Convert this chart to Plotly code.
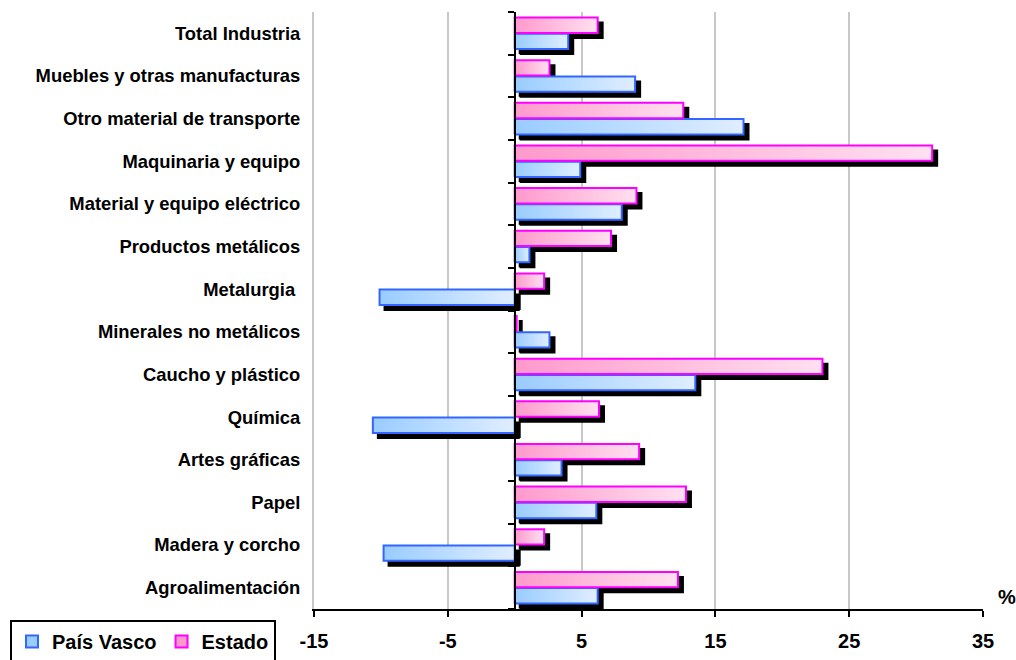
import plotly.graph_objects as go

# ---------------- data (bottom to top) ----------------
categories = [
    "Agroalimentación", "Madera y corcho", "Papel", "Artes gráficas",
    "Química", "Caucho y plástico", "Minerales no metálicos", "Metalurgia\u00a0",
    "Productos metálicos", "Material y equipo eléctrico", "Maquinaria y equipo",
    "Otro material de transporte", "Muebles y otras manufacturas", "Total Industria",
]
pais_vasco = [6.2, -9.8, 6.1, 3.5, -10.6, 13.5, 2.6, -10.1, 1.1, 8.0, 4.9, 17.1, 9.0, 4.0]
estado = [12.2, 2.2, 12.8, 9.3, 6.3, 23.0, 0.15, 2.2, 7.2, 9.1, 31.2, 12.6, 2.6, 6.2]
x_ticks = [-15, -5, 5, 15, 25, 35]
series_names = ["País Vasco", "Estado"]

# ---------------- layout geometry ----------------
W, H = 1016, 660
ML, MR, MT, MB = 314, 33, 12, 51
XMIN, XMAX = -15, 35
plot_w = W - ML - MR
plot_h = H - MT - MB
px_per_x = plot_w / (XMAX - XMIN)
px_per_cat = plot_h / len(categories)
SHADOW_DX = 5 / px_per_x
SHADOW_DY = 5 / px_per_cat

FONT = "Arial, 'Liberation Sans', sans-serif"
styles = {
    "País Vasco": dict(line="#3366FF", c0="#99CCFF", c1="#E0EEFF", lo=-0.37, hi=-0.01),
    "Estado": dict(line="#FF00FF", c0="#FF99CC", c1="#FFE0F0", lo=0.01, hi=0.37),
}

fig = go.Figure()


def rect(v, i, lo, hi, dx=0.0, dy=0.0):
    x0, x1 = 0 + dx, v + dx
    y0, y1 = i + lo + dy, i + hi + dy
    return [x0, x1, x1, x0, x0], [y0, y0, y1, y1, y0]


# shadows first
for name, vals in zip(series_names, [pais_vasco, estado]):
    s = styles[name]
    for i, v in enumerate(vals):
        xs, ys = rect(v, i, s["lo"], s["hi"], SHADOW_DX, -SHADOW_DY)
        fig.add_trace(go.Scatter(
            x=xs, y=ys, mode="lines", fill="toself", fillcolor="black",
            line=dict(color="black", width=2), showlegend=False, hoverinfo="skip"))

# bars with gradient
for name, vals in zip(series_names, [pais_vasco, estado]):
    s = styles[name]
    for i, v in enumerate(vals):
        xs, ys = rect(v, i, s["lo"], s["hi"])
        fig.add_trace(go.Scatter(
            x=xs, y=ys, mode="lines", fill="toself",
            fillgradient=dict(type="horizontal",
                              colorscale=[[0, s["c0"]], [1, s["c1"]]]),
            line=dict(color=s["line"], width=2), name=name,
            showlegend=False, hoverinfo="skip"))

# legend entries
for name in series_names:
    s = styles[name]
    fig.add_trace(go.Bar(
        x=[None], y=[None], orientation="h", name=name,
        marker=dict(color=s["c0"], line=dict(color=s["line"], width=2))))

# dummy trace for the zero (category) axis
fig.add_trace(go.Scatter(x=[None], y=[None], yaxis="y2", showlegend=False,
                         hoverinfo="skip"))

yr = [-0.5, len(categories) - 0.5]
fig.update_layout(
    width=W, height=H,
    margin=dict(l=ML, r=MR, t=MT, b=MB, autoexpand=False),
    paper_bgcolor="white", plot_bgcolor="white",
    font=dict(family=FONT, color="black"),
    showlegend=True,
    xaxis=dict(
        range=[XMIN, XMAX], tickvals=x_ticks, ticktext=[str(t) for t in x_ticks],
        showgrid=True, gridcolor="#C8C8C8", gridwidth=2, zeroline=False,
        showline=True, linecolor="black", linewidth=2,
        ticks="outside", ticklen=6, tickwidth=2, tickcolor="black",
        tickfont=dict(family=FONT, size=20, weight="bold", color="black"),
        ticklabelstandoff=7, fixedrange=True,
    ),
    yaxis=dict(
        range=yr, tickvals=list(range(len(categories))), ticktext=categories,
        showgrid=False, zeroline=False, showline=True, linecolor="#C8C8C8",
        linewidth=2, ticks="",
        tickfont=dict(family=FONT, size=18.4, weight="bold", color="black"),
        ticklabelstandoff=8, fixedrange=True,
    ),
    yaxis2=dict(
        overlaying="y", anchor="free", position=(0 - XMIN) / (XMAX - XMIN),
        side="left", range=yr,
        tickvals=[k - 0.5 for k in range(len(categories) + 1)],
        showticklabels=False, showgrid=False, zeroline=False,
        showline=True, linecolor="black", linewidth=2,
        ticks="outside", ticklen=6, tickwidth=2, tickcolor="black",
        layer="above traces", fixedrange=True,
    ),
    legend=dict(
        orientation="h", x=(10 - ML) / plot_w, y=-(620 - (H - MB)) / plot_h,
        xanchor="left", yanchor="top",
        bordercolor="black", borderwidth=2, bgcolor="white",
        font=dict(family=FONT, size=20, weight="bold", color="black"),
        itemwidth=30, tracegroupgap=0,
    ),
    annotations=[dict(
        text="<b>%</b>", xref="paper", yref="paper",
        x=(1007 - ML) / plot_w, y=(H - MB - 597) / plot_h,
        xanchor="center", yanchor="middle", showarrow=False,
        font=dict(family=FONT, size=20, color="black"),
    )],
)

fig.write_html("out.html")
